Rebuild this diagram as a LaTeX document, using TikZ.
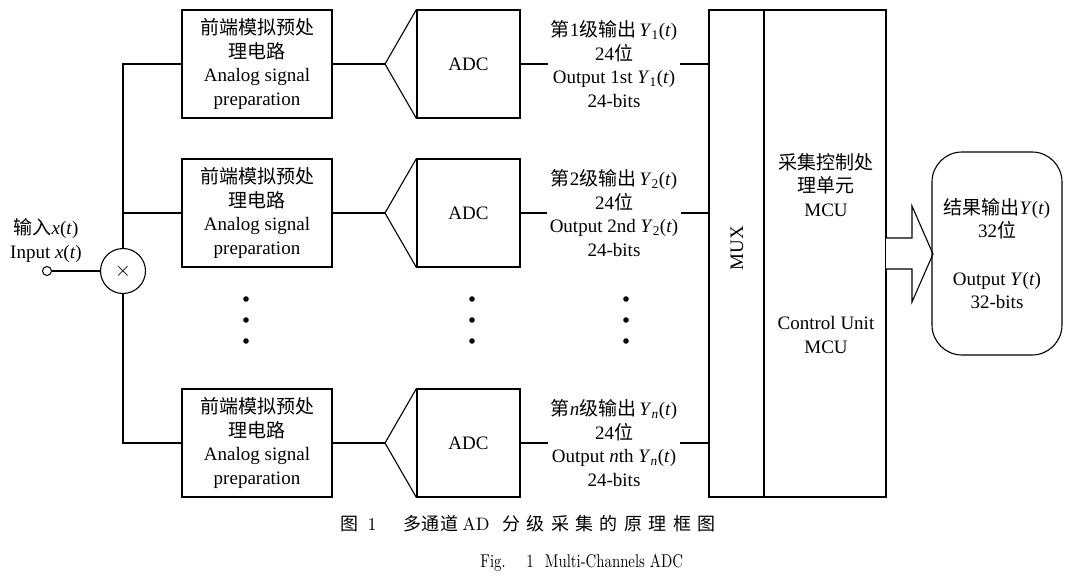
\documentclass[tikz,border=0pt]{standalone}
\usepackage{fontspec}
\setmainfont{Liberation Serif}
\newfontfamily\cjk{Noto Sans CJK SC}
\newfontfamily\lmr{lmroman10-regular}[Extension=.otf]
\newfontfamily\lmc{lmroman10-regular}[Extension=.otf,FakeStretch=0.8]
\usetikzlibrary{calc}
\newcommand\Yv[1]{\textit{Y}\textsubscript{#1}(\textit{t})}
\newcommand\xt{\textit{x}(\textit{t})}
\begin{document}
\begin{tikzpicture}[x=1pt,y=-1pt,line width=1.1pt,
  every node/.style={font=\fontsize{19}{23.5}\selectfont,inner sep=0pt},
  fe/.style={draw,minimum width=150pt,minimum height=108pt,align=center},
  adcbox/.style={draw,minimum width=103pt,minimum height=108pt},
  lab/.style={align=center,inner sep=2pt},
  tall/.style={draw,minimum height=487pt},
  dotmark/.style={fill=black},
  captxt/.style={font=\fontsize{18}{18}\selectfont,anchor=base},
  capen/.style={font=\fontsize{18.5}{18.5}\selectfont\lmc,anchor=base}]
\fill[white] (0,0) rectangle (1080,579);
\useasboundingbox (0,0) rectangle (1080,579);

% front-end boxes
\node[fe] (fe1) at (257,64) {{\cjk 前端模拟预处}\\{\cjk 理电路}\\Analog signal\\preparation};
\node[fe] (fe2) at (257,213) {{\cjk 前端模拟预处}\\{\cjk 理电路}\\Analog signal\\preparation};
\node[fe] (fe3) at (257,443) {{\cjk 前端模拟预处}\\{\cjk 理电路}\\Analog signal\\preparation};

% ADC blocks
\node[adcbox] (adc1) at (468.5,64) {ADC};
\node[adcbox] (adc2) at (468.5,213) {ADC};
\node[adcbox] (adc3) at (468.5,443) {ADC};
\coordinate (t1) at (385,64);
\coordinate (t2) at (385,213);
\coordinate (t3) at (385,443);
\foreach \i in {1,2,3}{
  \draw (adc\i.north west) -- (t\i) -- (adc\i.south west);
  \draw (fe\i.east) -- (t\i);
}

% MUX and MCU
\node[tall,minimum width=55pt] (mux) at (736.5,253.5) {};
\node[tall,minimum width=122pt] (mcu) at (825,253.5) {};
\node[rotate=90] (muxt) at (737,248) {MUX};
\node[align=center] (mcut1) at (826,185) {{\cjk 采集控制处}\\{\cjk 理单元}\\MCU};
\node[align=center] (mcut2) at (826,335) {Control Unit\\MCU};

% output labels
\node[lab] (l1) at (614,64) {{\cjk 第}1{\cjk 级输出}\,\Yv{1}\\24{\cjk 位}\\Output 1st \Yv{1}\\24-bits};
\node[lab] (l2) at (614,213) {{\cjk 第}2{\cjk 级输出}\,\Yv{2}\\24{\cjk 位}\\Output 2nd \Yv{2}\\24-bits};
\node[lab] (l3) at (614,443) {{\cjk 第}\textit{n}{\cjk 级输出}\,\Yv{\textit{n}}\\24{\cjk 位}\\Output \textit{n}th \Yv{\textit{n}}\\24-bits};
\foreach \i in {1,2,3}{
  \draw (adc\i.east) -- (l\i.west);
  \draw (l\i.east) -- (l\i.east -| mux.west);
}

% input and multiplier
\node[draw,circle,minimum size=9pt,line width=1pt] (inp) at (47,271) {};
\node[draw,circle,minimum size=45pt] (mul) at (123,271) {};
\node (mulx) at (mul.center) {\fontsize{22}{22}\selectfont$\times$};
\node[align=center] (inlab) at (46,240.5) {{\cjk 输入}\xt\\Input \xt};
\draw (inp) -- (mul);
\draw (mul.north) |- (fe1.west);
\draw (mul.north |- fe2.west) -- (fe2.west);
\draw (mul.south) |- (fe3.west);

% dots
\foreach \x in {246,472,626}
  \foreach \y in {299,320,341}
    \fill[dotmark] (\x,\y) circle (2.8pt);

% big arrow
\draw[fill=white] (886,238) -- (912,238) -- (912,206) -- (933,254) -- (912,302) -- (912,269) -- (886,269);

% output box
\node[draw,rounded corners=30pt,minimum width=130pt,minimum height=203pt,align=center] (out) at (997,253.5)
  {{\cjk 结果输出}\textit{Y}(\textit{t})\\32{\cjk 位}\\[24pt]Output \textit{Y}(\textit{t})\\32-bits};

% caption
\node[captxt] (c1a) at (349,530) {\cjk 图};
\node[captxt] (c1b) at (372,530) {\lmr 1};
\node[captxt] (c1c) at (431,530) {\cjk 多\kern0.5pt 通\kern0.5pt 道};
\node[captxt] (c1d) at (476,530) {\lmr AD};
\node[captxt] (c1e) at (609,530) {\cjk 分\kern6.5pt 级\kern6.5pt 采\kern6.5pt 集\kern6.5pt 的\kern6.5pt 原\kern6.5pt 理\kern6.5pt 框\kern6.5pt 图};
\node[capen] (c2a) at (493,567) {Fig.};
\node[capen] (c2b) at (530,567) {1};
\node[capen] (c2c) at (614,567) {Multi-Channels ADC};
\end{tikzpicture}
\end{document}
